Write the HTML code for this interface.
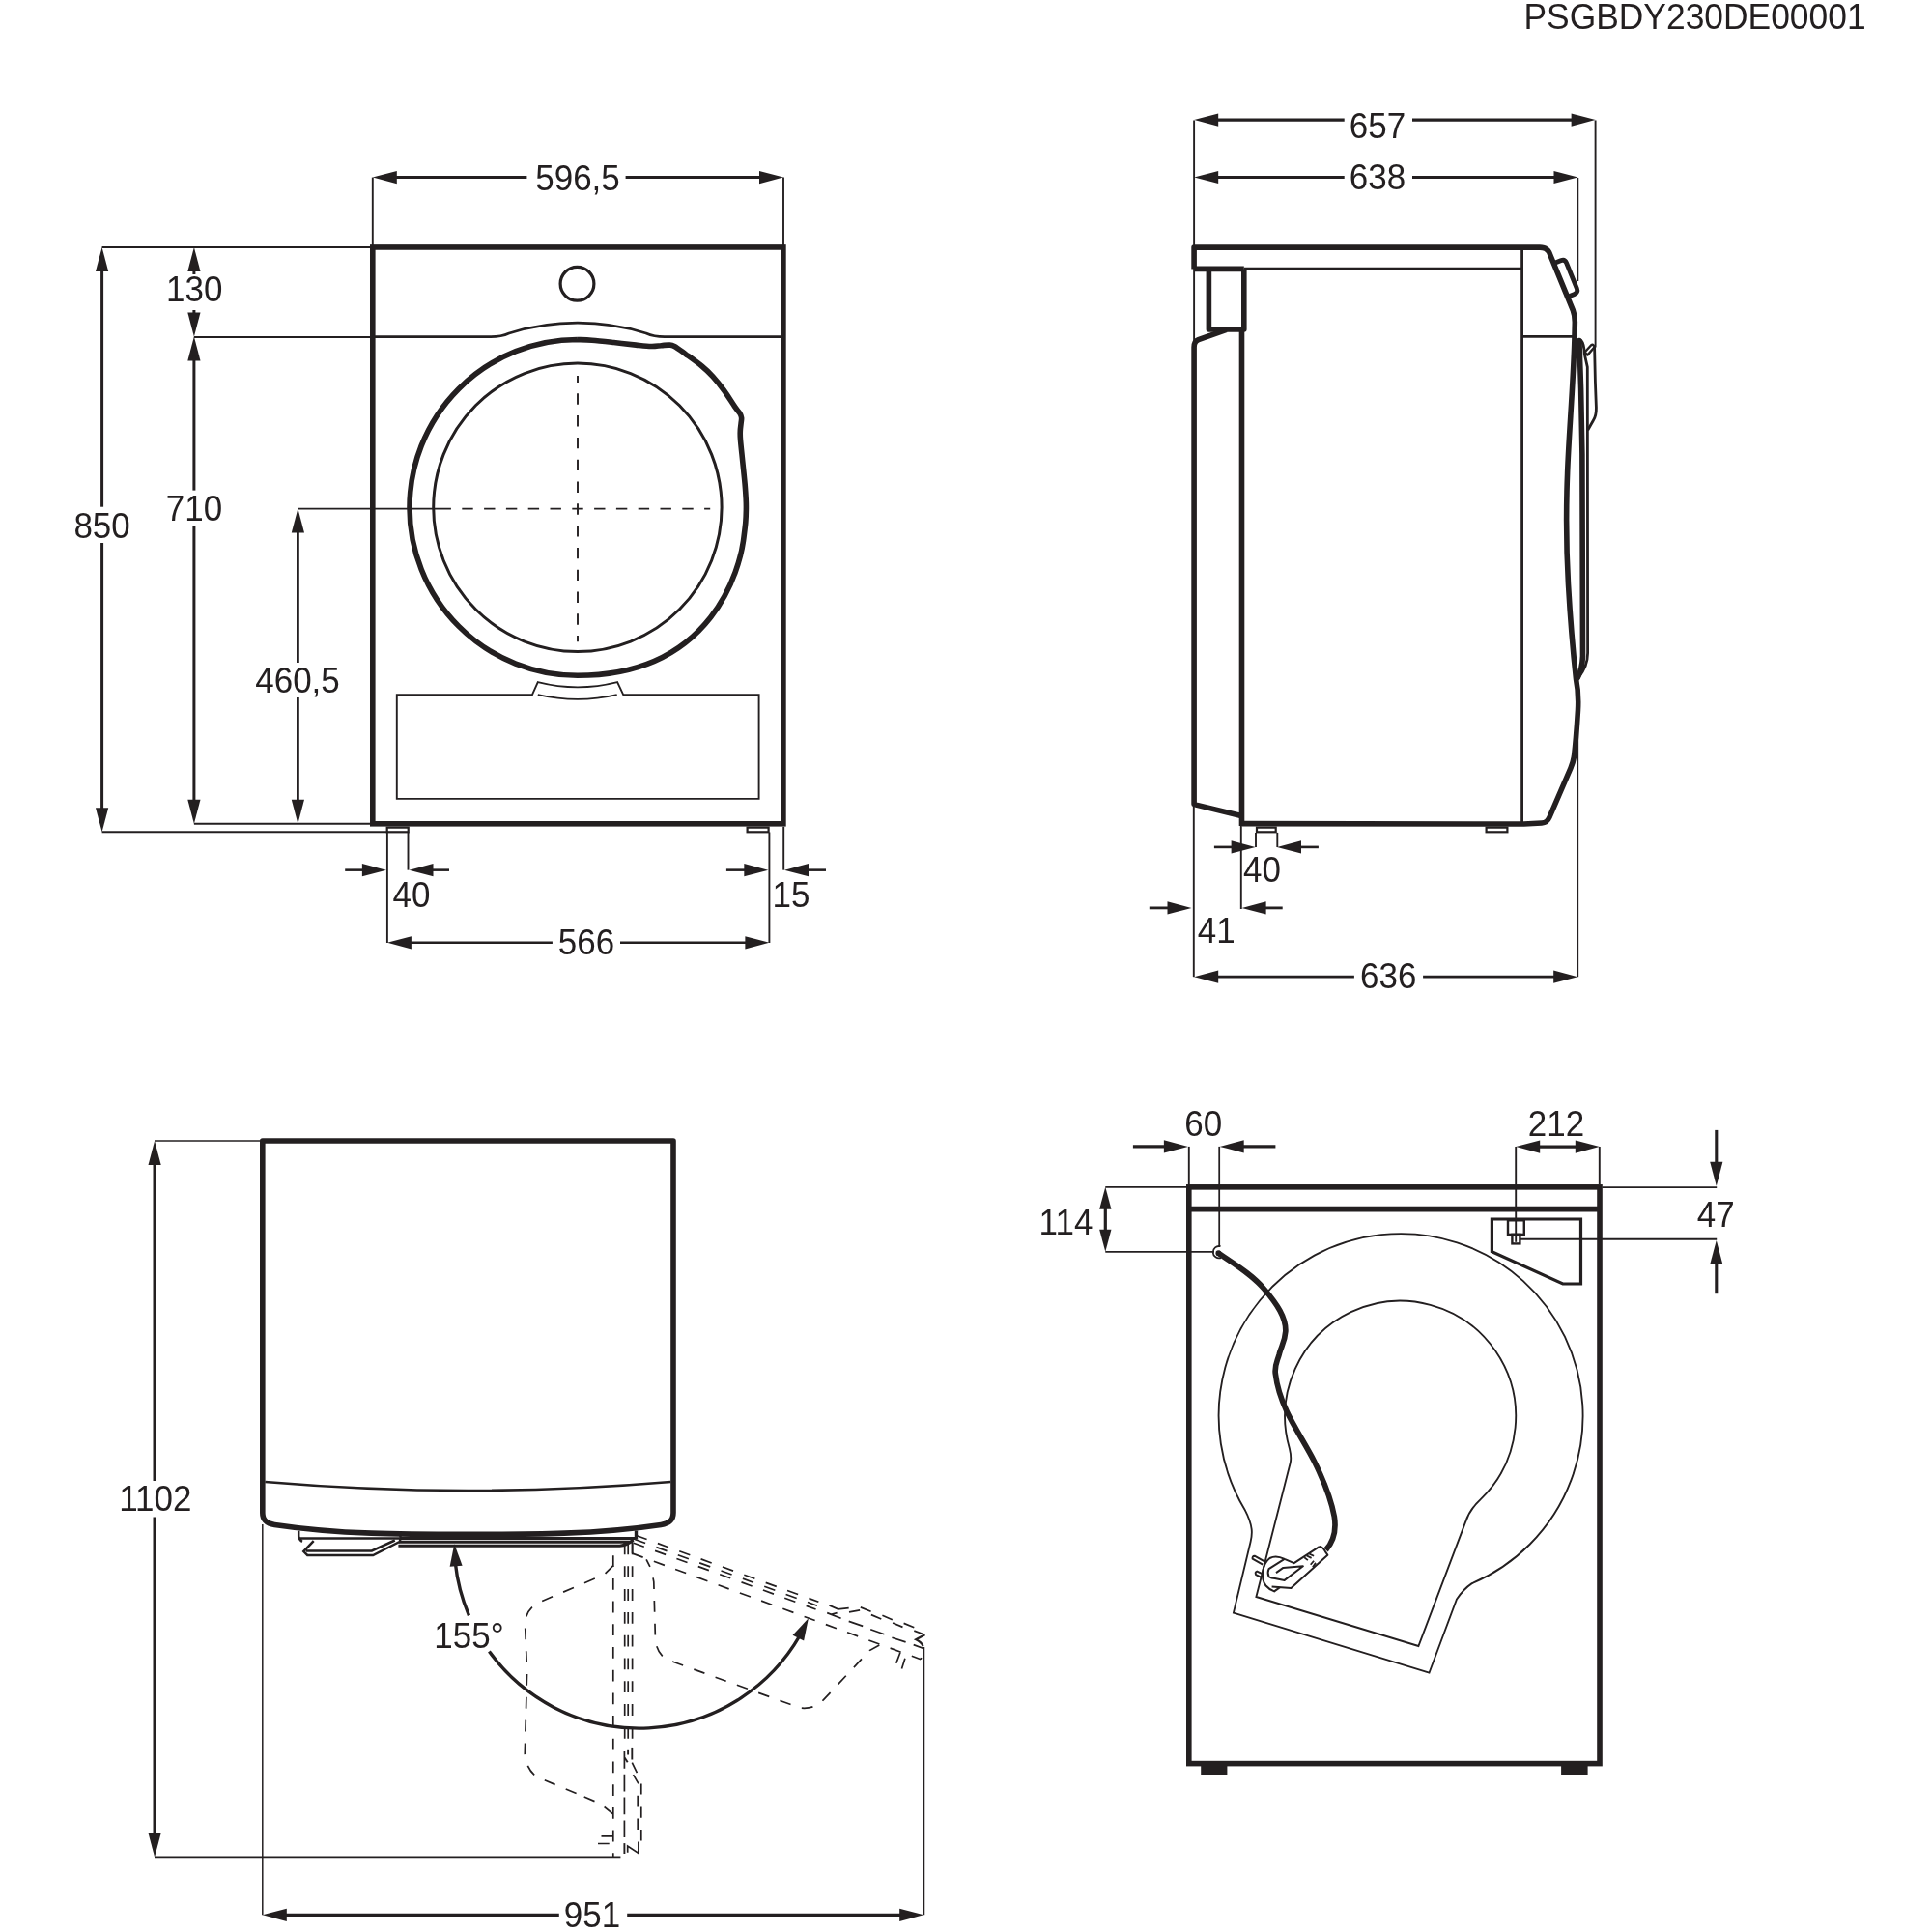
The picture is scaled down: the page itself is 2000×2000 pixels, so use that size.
<!DOCTYPE html>
<html><head><meta charset="utf-8"><title>PSGBDY230DE00001</title>
<style>html,body{margin:0;padding:0;background:#fff}svg{display:block;will-change:transform}text{font-family:"Liberation Sans",sans-serif;fill:#231f20;stroke:none}</style>
</head><body>
<svg width="2000" height="2000" viewBox="0 0 2000 2000" fill="none" stroke="#231f20" stroke-linecap="butt" stroke-linejoin="miter">
<rect x="0" y="0" width="2000" height="2000" fill="#fff" stroke="none"/>
<text transform="translate(1931.6,29.9) scale(1,1.053)" text-anchor="end" font-size="35.4">PSGBDY230DE00001</text>
<rect x="385.8" y="255.95" width="425.1" height="596.85" stroke-width="5.6"/>
<path d="M385.8,348.6 L508,348.6 Q519,348.6 527,344.97 A238.8,238.8 0 0 1 668.8,344.97 Q677,348.6 688,348.6 L810.9,348.6" stroke-width="2.8" />
<circle cx="597.5" cy="293.8" r="17.4" stroke-width="3.2"/>
<circle cx="597.9" cy="525.3" r="149.2" stroke-width="3"/>
<path d="M597.9,351.5 C600.38,351.62 606.53,351.7 612.8,352.2 C619.07,352.7 627.92,353.68 635.5,354.5 C643.08,355.32 651.83,356.43 658.3,357.1 C664.77,357.77 669.93,358.4 674.3,358.5 C678.67,358.6 681.47,357.93 684.5,357.7 C687.53,357.47 690.22,356.97 692.5,357.1 C694.78,357.23 695.35,356.95 698.2,358.5 C701.05,360.05 704.87,362.98 709.6,366.4 C714.33,369.82 721.87,375.1 726.6,379 C731.33,382.9 734.2,385.63 738,389.8 C741.8,393.97 745.6,398.78 749.4,404 C753.2,409.22 758.05,417.12 760.8,421.1 C763.55,425.08 764.77,426 765.9,427.9 C767.03,429.8 767.4,430.78 767.6,432.5 C767.8,434.22 767.32,435.93 767.1,438.2 C766.88,440.47 766.4,443.25 766.3,446.1 C766.2,448.95 766.08,449.98 766.5,455.3 C766.92,460.62 768.03,470.42 768.8,478 C769.57,485.58 770.53,494.35 771.1,500.8 C771.67,507.25 771.98,512.33 772.2,516.7 C772.42,521.07 772.47,522.95 772.4,527 C772.33,531.05 772.28,535.5 771.8,541 C771.32,546.5 769.88,556.83 769.5,560 C766,585 740,699.3 597.9,699.3 A173.9,173.9 0 0 1 597.9,351.5" stroke-width="5.6" stroke-linejoin="round"/>
<line x1="308" y1="526.6" x2="455.5" y2="526.6" stroke-width="1.9" />
<line x1="455.5" y1="526.6" x2="735.2" y2="526.6" stroke-width="1.9" stroke-dasharray="11.4 11.4"/>
<line x1="598" y1="389" x2="598" y2="664.3" stroke-width="1.9" stroke-dasharray="11.4 11.4" stroke-dashoffset="4.5"/>
<path d="M551,719.1 L410.8,719.1 L410.8,826.9 L785.6,826.9 L785.6,719.1 L645.2,719.1 L639.1,706.2 Q598,716.6 556.8,706.2 Z" stroke-width="1.9" />
<path d="M556.8,719.1 Q598,728.6 638.7,719.1" stroke-width="1.9" />
<rect x="400.7" y="856.65" width="22" height="4.65" stroke-width="2.2"/>
<rect x="773.6" y="856.65" width="22" height="4.65" stroke-width="2.2"/>
<polygon points="385.8,183.6 410.8,177 410.8,190.2" fill="#231f20" stroke="none"/>
<polygon points="811,183.6 786,190.2 786,177" fill="#231f20" stroke="none"/>
<line x1="405.8" y1="183.6" x2="545.4" y2="183.6" stroke-width="3.0" />
<line x1="647.6" y1="183.6" x2="791" y2="183.6" stroke-width="3.0" />
<text transform="translate(598,196.5) scale(1,1.053)" text-anchor="middle" font-size="35">596,5</text>
<line x1="385.8" y1="183.6" x2="385.8" y2="254" stroke-width="1.9" />
<line x1="811" y1="183.6" x2="811" y2="254" stroke-width="1.9" />
<polygon points="105.6,256 112.2,281 99,281" fill="#231f20" stroke="none"/>
<polygon points="105.6,861.3 99,836.3 112.2,836.3" fill="#231f20" stroke="none"/>
<line x1="105.6" y1="276" x2="105.6" y2="524.7" stroke-width="3.0" />
<line x1="105.6" y1="562.1" x2="105.6" y2="841.3" stroke-width="3.0" />
<text transform="translate(105.6,556.5) scale(1,1.053)" text-anchor="middle" font-size="35">850</text>
<polygon points="200.9,256 207.5,281 194.3,281" fill="#231f20" stroke="none"/>
<polygon points="200.9,348.6 194.3,323.6 207.5,323.6" fill="#231f20" stroke="none"/>
<line x1="200.9" y1="276" x2="200.9" y2="284" stroke-width="3.0" />
<line x1="200.9" y1="321" x2="200.9" y2="328.6" stroke-width="3.0" />
<text transform="translate(201.2,312) scale(1,1.053)" text-anchor="middle" font-size="35">130</text>
<polygon points="200.9,348.6 207.5,373.6 194.3,373.6" fill="#231f20" stroke="none"/>
<polygon points="200.9,852.8 194.3,827.8 207.5,827.8" fill="#231f20" stroke="none"/>
<line x1="200.9" y1="368.6" x2="200.9" y2="507.6" stroke-width="3.0" />
<line x1="200.9" y1="544" x2="200.9" y2="832.8" stroke-width="3.0" />
<text transform="translate(200.9,538.5) scale(1,1.053)" text-anchor="middle" font-size="35">710</text>
<polygon points="308.4,526.6 315,551.6 301.8,551.6" fill="#231f20" stroke="none"/>
<polygon points="308.4,852.8 301.8,827.8 315,827.8" fill="#231f20" stroke="none"/>
<line x1="308.4" y1="546.6" x2="308.4" y2="686" stroke-width="2.8" />
<line x1="308.4" y1="722" x2="308.4" y2="832.8" stroke-width="2.8" />
<text transform="translate(308,716.7) scale(1,1.053)" text-anchor="middle" font-size="35">460,5</text>
<line x1="105.6" y1="255.95" x2="383" y2="255.95" stroke-width="1.9" />
<line x1="200.9" y1="349" x2="383" y2="349" stroke-width="1.9" />
<line x1="200.9" y1="852.8" x2="383" y2="852.8" stroke-width="1.9" />
<line x1="105.6" y1="861.3" x2="400" y2="861.3" stroke-width="1.9" />
<polygon points="399.9,900.65 374.9,907.25 374.9,894.05" fill="#231f20" stroke="none"/>
<line x1="357.2" y1="900.65" x2="380" y2="900.65" stroke-width="2.55" />
<polygon points="423.5,900.65 448.5,894.05 448.5,907.25" fill="#231f20" stroke="none"/>
<line x1="445" y1="900.65" x2="465" y2="900.65" stroke-width="2.55" />
<line x1="400.9" y1="861.5" x2="400.9" y2="976" stroke-width="1.9" />
<line x1="422.5" y1="861.5" x2="422.5" y2="900.65" stroke-width="1.9" />
<text transform="translate(425.9,938.7) scale(1,1.053)" text-anchor="middle" font-size="35">40</text>
<polygon points="795.3,900.65 770.3,907.25 770.3,894.05" fill="#231f20" stroke="none"/>
<line x1="751.9" y1="900.65" x2="775" y2="900.65" stroke-width="2.55" />
<polygon points="812,900.65 837,894.05 837,907.25" fill="#231f20" stroke="none"/>
<line x1="832" y1="900.65" x2="855" y2="900.65" stroke-width="2.55" />
<line x1="796.4" y1="861.5" x2="796.4" y2="976" stroke-width="1.9" />
<line x1="811.2" y1="855.8" x2="811.2" y2="900.65" stroke-width="1.9" />
<text transform="translate(818.9,938.5) scale(1,1.053)" text-anchor="middle" font-size="35">15</text>
<polygon points="400.9,975.8 425.9,969.2 425.9,982.4" fill="#231f20" stroke="none"/>
<polygon points="796.4,975.8 771.4,982.4 771.4,969.2" fill="#231f20" stroke="none"/>
<line x1="420.9" y1="975.8" x2="571.9" y2="975.8" stroke-width="2.55" />
<line x1="642" y1="975.8" x2="776.4" y2="975.8" stroke-width="2.55" />
<text transform="translate(607,987.9) scale(1,1.053)" text-anchor="middle" font-size="35">566</text>
<path d="M1236.1,278.4 L1236.1,256.1 L1594,256.1 Q1601,256.1 1603.6,261 L1628.3,321.1 Q1630.6,327 1630.3,335 L1629.9,352 C1628.5,400 1624,450 1622.6,490 C1621,530 1621.5,570 1623.5,605 C1625.5,640 1629,680 1631.5,703 C1634,715 1634.2,722 1633.5,735 C1632.5,752 1631,770 1629.5,783 Q1628.5,789 1626,795 L1604,846 Q1601.5,851.8 1596,852 L1577.6,853 L1285.5,852.6" stroke-width="5.6" stroke-linejoin="round"/>
<path d="M1236.1,278.4 L1287.8,278.4 M1251.4,278.4 L1251.4,341 L1287.8,341 L1287.8,278.4" stroke-width="5.6" stroke-linejoin="round"/>
<path d="M1269.6,341.4 L1240.6,351.7 Q1236.1,353.5 1236.1,359.5 L1236.1,832.6 L1283.8,844.2" stroke-width="5.6" stroke-linejoin="round"/>
<line x1="1285.5" y1="341" x2="1285.5" y2="855" stroke-width="5.6" />
<line x1="1287.8" y1="278.2" x2="1575.6" y2="278.2" stroke-width="2.8" />
<line x1="1575.6" y1="257" x2="1575.6" y2="851.5" stroke-width="2.8" />
<line x1="1575.6" y1="348.4" x2="1628" y2="348.4" stroke-width="2.8" />
<path d="M1608.76,272.55 L1615.7,269.72 Q1619.87,268.02 1621.57,272.18 L1632.35,298.57 Q1634.05,302.74 1629.88,304.44 L1622.93,307.28" stroke-width="4.8" />
<path d="M1634.9,352.5 L1636.6,402 L1637.9,470 L1638.5,679 Q1638,692 1633.3,701.5" stroke-width="5.6" stroke-linecap="round"/>
<path d="M1636.5,352 Q1640,356 1640.2,366 L1643.3,380 L1643.6,676 Q1643.5,690 1634,701.5" stroke-width="2.8" />
<path d="M1640.6,364.5 L1647.2,357.3 Q1648.6,356.3 1649.8,357.6 L1650.8,359 L1643.4,367.6 Z" stroke-width="2.4" stroke-linejoin="round"/>
<path d="M1650.6,359 L1651.4,395 L1652.4,422 Q1652.6,430 1649.5,435 L1643.7,445.2" stroke-width="2.8" />
<rect x="1301" y="856.65" width="19.7" height="4.65" stroke-width="2.2"/>
<rect x="1538.6" y="856.65" width="21.8" height="4.65" stroke-width="2.2"/>
<polygon points="1236.2,124.1 1261.2,117.5 1261.2,130.7" fill="#231f20" stroke="none"/>
<polygon points="1651.6,124.1 1626.6,130.7 1626.6,117.5" fill="#231f20" stroke="none"/>
<line x1="1256.2" y1="124.1" x2="1391.7" y2="124.1" stroke-width="3.1" />
<line x1="1462" y1="124.1" x2="1631.6" y2="124.1" stroke-width="3.1" />
<text transform="translate(1426,142.7) scale(1,1.053)" text-anchor="middle" font-size="35">657</text>
<polygon points="1236.2,183.5 1261.2,176.9 1261.2,190.1" fill="#231f20" stroke="none"/>
<polygon points="1633.5,183.5 1608.5,190.1 1608.5,176.9" fill="#231f20" stroke="none"/>
<line x1="1256.2" y1="183.5" x2="1391.7" y2="183.5" stroke-width="3.1" />
<line x1="1462" y1="183.5" x2="1613.5" y2="183.5" stroke-width="3.1" />
<text transform="translate(1426,196.3) scale(1,1.053)" text-anchor="middle" font-size="35">638</text>
<line x1="1236.1" y1="124.5" x2="1236.1" y2="360" stroke-width="1.9" />
<line x1="1651.6" y1="124.5" x2="1651.6" y2="359.5" stroke-width="1.9" />
<line x1="1633.3" y1="184" x2="1633.3" y2="291" stroke-width="1.9" />
<polygon points="1299.6,876.9 1274.6,883.5 1274.6,870.3" fill="#231f20" stroke="none"/>
<line x1="1256.9" y1="876.9" x2="1280" y2="876.9" stroke-width="2.6" />
<polygon points="1322,876.9 1347,870.3 1347,883.5" fill="#231f20" stroke="none"/>
<line x1="1342" y1="876.9" x2="1364.9" y2="876.9" stroke-width="2.6" />
<line x1="1300" y1="861.9" x2="1300" y2="877" stroke-width="1.9" />
<line x1="1322.3" y1="861.9" x2="1322.3" y2="877" stroke-width="1.9" />
<text transform="translate(1306.5,913) scale(1,1.053)" text-anchor="middle" font-size="35">40</text>
<polygon points="1233.5,939.9 1208.5,946.5 1208.5,933.3" fill="#231f20" stroke="none"/>
<line x1="1189.8" y1="939.9" x2="1213" y2="939.9" stroke-width="2.8" />
<polygon points="1285.6,939.9 1310.6,933.3 1310.6,946.5" fill="#231f20" stroke="none"/>
<line x1="1305" y1="939.9" x2="1327.7" y2="939.9" stroke-width="2.8" />
<line x1="1235.8" y1="835" x2="1235.8" y2="1011.2" stroke-width="1.9" />
<line x1="1284.8" y1="854" x2="1284.8" y2="941" stroke-width="1.9" />
<text transform="translate(1259.2,975.5) scale(1,1.053)" text-anchor="middle" font-size="35">41</text>
<polygon points="1236.2,1011.2 1261.2,1004.6 1261.2,1017.8" fill="#231f20" stroke="none"/>
<polygon points="1633.2,1011.2 1608.2,1017.8 1608.2,1004.6" fill="#231f20" stroke="none"/>
<line x1="1256.2" y1="1011.2" x2="1401.9" y2="1011.2" stroke-width="2.8" />
<line x1="1473.1" y1="1011.2" x2="1613.2" y2="1011.2" stroke-width="2.8" />
<text transform="translate(1437.3,1022.5) scale(1,1.053)" text-anchor="middle" font-size="35">636</text>
<line x1="1633.2" y1="701" x2="1633.2" y2="1011.2" stroke-width="1.9" />
<path d="M271.8,1181 L697,1181 L697,1566 C697,1575 691,1577.4 684.3,1578.4 C617.6,1588.4 551,1588.4 484.3,1588.4 C417.6,1588.4 351,1588.4 284.3,1578.4 C277.6,1577.4 271.8,1575 271.8,1566 Z" stroke-width="5.6" stroke-linejoin="round"/>
<path d="M274.4,1534 A2475,2475 0 0 0 694.4,1534" stroke-width="2.6" />
<line x1="271.8" y1="1578" x2="271.8" y2="1982.3" stroke-width="1.5" />
<line x1="956.5" y1="1705" x2="956.5" y2="1982.3" stroke-width="1.5" />
<polygon points="160.1,1180.95 166.7,1205.95 153.5,1205.95" fill="#231f20" stroke="none"/>
<polygon points="160.1,1922.4 153.5,1897.4 166.7,1897.4" fill="#231f20" stroke="none"/>
<line x1="160.1" y1="1200.95" x2="160.1" y2="1533" stroke-width="3.2" />
<line x1="160.1" y1="1570.4" x2="160.1" y2="1902.4" stroke-width="3.2" />
<text transform="translate(160.8,1564.2) scale(1,1.053)" text-anchor="middle" font-size="35">1102</text>
<line x1="160" y1="1180.95" x2="269.5" y2="1180.95" stroke-width="1.5" />
<line x1="160" y1="1922.4" x2="642.4" y2="1922.4" stroke-width="1.7" />
<polygon points="271.8,1982.3 296.8,1975.7 296.8,1988.9" fill="#231f20" stroke="none"/>
<polygon points="956.2,1982.3 931.2,1988.9 931.2,1975.7" fill="#231f20" stroke="none"/>
<line x1="291.8" y1="1982.3" x2="578.8" y2="1982.3" stroke-width="3.2" />
<line x1="649.2" y1="1982.3" x2="936.2" y2="1982.3" stroke-width="3.2" />
<text transform="translate(612.9,1994.5) scale(1,1.053)" text-anchor="middle" font-size="35">951</text>
<path d="M414,1592.4 L657,1592.4 M413,1596.2 L654.8,1596.2 M412.4,1600.2 L641.5,1600.2 Q649,1599.8 655.6,1594" stroke-width="3.0" />
<line x1="658.5" y1="1584.5" x2="658.5" y2="1593.6" stroke-width="3.4" />
<path d="M309.2,1584.8 L309.2,1590.6 Q310,1594.5 313,1595.8 M309.8,1592.5 L413.3,1592.5" stroke-width="2.5" />
<path d="M324.7,1595.1 L314.3,1606.1 L318.2,1610 L386.2,1610 L414,1595.8 L414.6,1589.3 M316.9,1605.5 L384.9,1605.5 L408.8,1594.5" stroke-width="2.5" stroke-linejoin="miter"/>
<path d="M471.25,1617.44 A191.7,191.7 0 0 0 485.44,1672.3 M506.42,1709.54 A191.7,191.7 0 0 0 827.92,1693.25" stroke-width="3.4" />
<polygon points="470.3,1598.3 478.61,1620.71 465.65,1621.75" fill="#231f20" stroke="none"/>
<polygon points="836.9,1675.2 832.11,1698.62 820.57,1692.65" fill="#231f20" stroke="none"/>
<text transform="translate(485.5,1705.5) scale(1,1.053)" text-anchor="middle" font-size="35">155°</text>
<line x1="634.8" y1="1610.2" x2="634.8" y2="1922.9" stroke-width="1.7" stroke-dasharray="11.8 11.9"/>
<line x1="646.7" y1="1599" x2="646.7" y2="1800" stroke-width="1.7" stroke-dasharray="11.8 12" stroke-dashoffset="1.5"/>
<line x1="650.2" y1="1599" x2="650.2" y2="1800" stroke-width="1.7" stroke-dasharray="11.8 12" stroke-dashoffset="1.5"/>
<line x1="654.6" y1="1594.8" x2="654.6" y2="1800" stroke-width="1.7" stroke-dasharray="11.8 12" stroke-dashoffset="21.1"/>
<line x1="646.4" y1="1813" x2="646.4" y2="1902.3" stroke-width="1.7" stroke-dasharray="17.7 6.1"/>
<line x1="646.4" y1="1908.1" x2="646.4" y2="1919" stroke-width="1.9" />
<line x1="650.1" y1="1811.8" x2="650.1" y2="1816.5" stroke-width="1.9" />
<line x1="654.3" y1="1809.9" x2="654.3" y2="1821.5" stroke-width="1.9" />
<line x1="646.6" y1="1819.6" x2="649.7" y2="1824.3" stroke-width="1.9" />
<path d="M634.9,1620.6 L625.6,1629.9 L560.4,1657.8 Q545,1664 543.5,1680 L545.6,1730.8 L543.3,1816 Q545,1832 556,1839.5 L604.7,1860" stroke-width="1.7" stroke-dasharray="11.8 12"/>
<path d="M604.7,1860 L615.5,1864.6 M625.6,1870.5 L634.7,1877.8" stroke-width="1.7" />
<path d="M654.3,1824.6 L659.4,1835.1 M655.5,1837.1 L660.9,1846.4 M663.8,1846.4 L663.8,1857.6 M663.8,1870.5 L663.8,1881.7 M663.8,1894.1 L663.8,1905.4 M660.2,1858.8 L660.2,1870.5 M660.2,1882.5 L660.2,1894.1" stroke-width="1.7" />
<path d="M622.5,1900.9 L634.7,1900.9 M619,1908.5 L630.7,1908.5 M649.7,1917.8 L649.7,1911 L660.9,1918.4 L660.9,1906.6" stroke-width="1.7" />
<line x1="658.5" y1="1589.5" x2="847.38" y2="1658.25" stroke-width="1.7" stroke-dasharray="11.8 12"/>
<line x1="657.06" y1="1593.45" x2="845.94" y2="1662.19" stroke-width="1.7" stroke-dasharray="11.8 12"/>
<line x1="655.7" y1="1597.21" x2="844.57" y2="1665.95" stroke-width="1.7" stroke-dasharray="11.8 12"/>
<line x1="654.6" y1="1594.8" x2="654.6" y2="1608.1" stroke-width="1.7" />
<line x1="654.6" y1="1608.1" x2="953.1" y2="1717.7" stroke-width="1.7" stroke-dasharray="11.8 11.9"/>
<path d="M910.3,1702.9 L900.2,1708.6 L853,1759.2 Q843,1770 828,1768 L818,1764.3 L690,1717.8 Q679.5,1711 678.4,1696.6 L676.8,1637.6 L674.5,1625.2 L669.1,1614.3" stroke-width="1.7" stroke-dasharray="11.8 11.9"/>
<path d="M858.5,1661.9 L867.6,1665.9 L878.7,1664.6 M879,1668.9 L890.1,1666.9 M890.8,1663.9 L901.6,1668.3 M913.4,1672.3 L923.8,1676.7 M935.6,1680.4 L946.3,1684.7 M901.9,1671.6 L912.3,1676 M924.1,1680 L934.5,1684.4 M946.3,1688.1 L957.4,1692.2 M856.2,1669.6 L870.6,1675.3 M860.2,1671.3 L866.6,1669.6 M878.7,1678.4 L893.2,1683.4 M901.2,1686.8 L915.4,1691.8 M923.4,1695.2 L937.6,1699.9 M945.7,1702.6 L956.1,1706.5 M931.9,1710.7 L927.8,1721.8 M936.9,1716.7 L933.5,1727.5 M953.1,1717.7 L953.7,1716 " stroke-width="1.7" />
<path d="M957.4,1692.2 L948.3,1697.2 Q953.5,1699.5 955.6,1704" stroke-width="2.2" />
<rect x="1230.8" y="1228.85" width="425.2" height="596.75" stroke-width="5.6"/>
<line x1="1230.8" y1="1251.6" x2="1656" y2="1251.6" stroke-width="5.6" />
<rect x="1243.2" y="1827" width="27.2" height="10" fill="#231f20" stroke="none"/>
<rect x="1616.1" y="1827" width="27.5" height="10" fill="#231f20" stroke="none"/>
<path d="M1276.9,1669.6 L1294.6,1596 C1296.5,1588 1297.5,1580 1288.52,1562.68 A188.5,188.5 0 1 1 1523.75,1639.12 Q1515,1645 1508,1655.5 L1479.5,1731.7 Z" stroke-width="1.85" stroke-linejoin="miter"/>
<path d="M1300.4,1653 L1335.7,1514.5 C1337,1509 1336,1504 1334.83,1499.14 A119.5,119.5 0 1 1 1532.71,1552.16 Q1521,1563 1517,1575.9 L1468.4,1704 Z" stroke-width="1.85" stroke-linejoin="miter"/>
<path d="M1544.4,1262 L1636.5,1262 L1636.5,1329 L1617.8,1329 L1544.4,1295.8 Z" stroke-width="3.2" />
<rect x="1561" y="1263.3" width="16.8" height="14.6" stroke-width="2.4"/>
<rect x="1565.4" y="1277.9" width="8" height="9.5" stroke-width="2.4"/>
<path d="M1263.50,1290.21 A6.2,6.2 0 1 0 1264.02,1302.03" stroke-width="1.8" />
<path d="M1260.9,1296.9 C1275,1307 1295,1318 1308.8,1334.5 C1322,1350 1331.5,1364 1330.8,1378.4 C1330,1390 1326,1394 1324.3,1401.7 C1322,1410 1319,1414 1320.4,1422.5 C1322,1436 1326,1448 1332.1,1461.3 C1340,1478 1352,1496 1360.6,1513 C1370,1532 1378,1552 1381.3,1570 C1383.5,1584 1381,1595 1372.6,1604.5" stroke-width="5.7" />
<circle cx="1261.3" cy="1297.2" r="2.85" fill="#231f20" stroke="none"/>
<path d="M1365.7,1601.1 L1339.6,1618.2 L1329.7,1613.9 Q1321,1609.6 1314.5,1613 Q1308.5,1617.5 1307.2,1627 Q1306,1636 1310.5,1641.5 Q1314,1645.5 1319.1,1647.4 L1324.7,1643.4 M1316.6,1642.4 L1336.5,1644 L1374.4,1609.8 L1371.9,1606.1 Q1369,1601 1365.7,1601.1" stroke-width="2" stroke-linejoin="round"/>
<path d="M1329.7,1613.9 L1313.5,1624.1 Q1311.8,1627.5 1313.5,1632.2 Q1316,1634 1319.8,1634 L1329.7,1635.9 L1348.9,1621.3 L1328.4,1622.9 L1321,1628.1" stroke-width="2" stroke-linejoin="round"/>
<path d="M1350.2,1612.3 L1353.9,1615.1 M1352.7,1610.4 L1357.6,1612.9 M1355.5,1608.6 L1360.1,1610.7 M1356.7,1619.8 L1360.1,1615.7 M1358.9,1622.2 L1362,1617.9" stroke-width="1.8" />
<path d="M1308.6,1616.2 L1298.7,1610.7 Q1296.2,1610.8 1296.6,1613.6 L1307.2,1619.6 M1306.6,1629.2 L1301.2,1626.6 Q1298.9,1627.4 1300.1,1630.1 L1305.9,1633" stroke-width="2" stroke-linejoin="round"/>
<polygon points="1229.9,1186.9 1204.9,1193.5 1204.9,1180.3" fill="#231f20" stroke="none"/>
<line x1="1172.9" y1="1186.9" x2="1210" y2="1186.9" stroke-width="3.1" />
<polygon points="1262.7,1186.9 1287.7,1180.3 1287.7,1193.5" fill="#231f20" stroke="none"/>
<line x1="1282" y1="1186.9" x2="1320.4" y2="1186.9" stroke-width="3.1" />
<line x1="1230.8" y1="1186.9" x2="1230.8" y2="1229" stroke-width="1.9" />
<line x1="1262.2" y1="1186.9" x2="1262.2" y2="1290.5" stroke-width="1.75" />
<text transform="translate(1245.8,1175.7) scale(1,1.053)" text-anchor="middle" font-size="35">60</text>
<polygon points="1144.3,1228.7 1150.45,1251.7 1138.15,1251.7" fill="#231f20" stroke="none"/>
<polygon points="1144.3,1295.8 1138.15,1272.8 1150.45,1272.8" fill="#231f20" stroke="none"/>
<line x1="1144.3" y1="1248" x2="1144.3" y2="1276" stroke-width="3.2" />
<text transform="translate(1103.5,1277.5) scale(1,1.053)" text-anchor="middle" font-size="35">114</text>
<line x1="1144.3" y1="1228.9" x2="1228.6" y2="1228.9" stroke-width="1.7" />
<line x1="1144.3" y1="1295.8" x2="1257" y2="1295.8" stroke-width="1.7" />
<polygon points="1569.2,1187.1 1594.2,1180.5 1594.2,1193.7" fill="#231f20" stroke="none"/>
<polygon points="1655.8,1187.1 1630.8,1193.7 1630.8,1180.5" fill="#231f20" stroke="none"/>
<line x1="1589.2" y1="1187.1" x2="1635.8" y2="1187.1" stroke-width="3.1" />
<text transform="translate(1611,1176) scale(1,1.053)" text-anchor="middle" font-size="35">212</text>
<line x1="1569.2" y1="1187" x2="1569.2" y2="1285.8" stroke-width="1.9" />
<line x1="1655.8" y1="1187" x2="1655.8" y2="1226" stroke-width="1.9" />
<polygon points="1776.8,1227.8 1770.2,1202.8 1783.4,1202.8" fill="#231f20" stroke="none"/>
<line x1="1776.8" y1="1169.9" x2="1776.8" y2="1208" stroke-width="3.1" />
<polygon points="1776.8,1284 1783.4,1309 1770.2,1309" fill="#231f20" stroke="none"/>
<line x1="1776.8" y1="1304" x2="1776.8" y2="1339.2" stroke-width="3.1" />
<line x1="1658.5" y1="1229.1" x2="1777.2" y2="1229.1" stroke-width="1.9" />
<line x1="1573.4" y1="1282.7" x2="1777.2" y2="1282.7" stroke-width="1.9" />
<text transform="translate(1776.2,1270.2) scale(1,1.053)" text-anchor="middle" font-size="35">47</text>
</svg>
</body></html>
